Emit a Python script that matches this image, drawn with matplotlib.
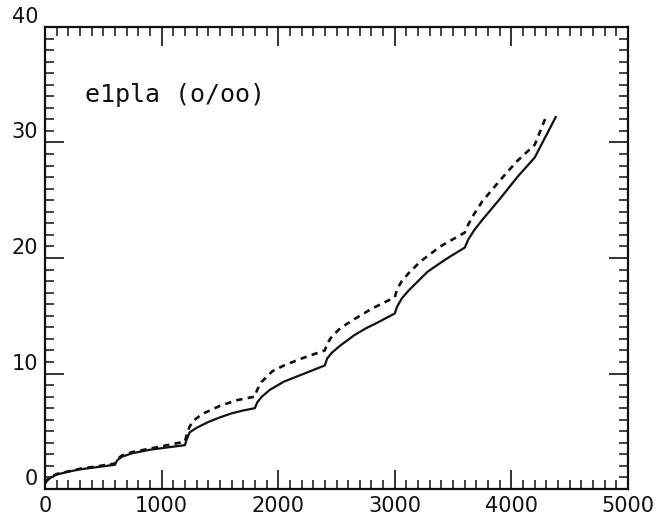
import matplotlib
matplotlib.use("Agg")
import matplotlib.pyplot as plt
from matplotlib.ticker import MultipleLocator

# Plastic strain (per mille) versus time, two runs
time_solid = [0, 25, 60, 100, 200, 300, 450, 600,
              620, 660, 750, 900, 1050, 1200,
              1215, 1240, 1300, 1400, 1500, 1600, 1700, 1800,
              1820, 1860, 1930, 2050, 2200, 2300, 2400,
              2420, 2460, 2530, 2650, 2750, 2850, 3000,
              3020, 3060, 3120, 3200, 3280, 3380, 3470, 3600,
              3630, 3680, 3750, 3900, 4050, 4200,
              4380]
strain_solid = [0.5, 0.8, 1.05, 1.25, 1.5, 1.7, 1.9, 2.1,
                2.5, 2.8, 3.1, 3.4, 3.6, 3.8,
                4.3, 4.9, 5.3, 5.8, 6.2, 6.55, 6.8, 7.0,
                7.5, 8.0, 8.6, 9.3, 9.9, 10.3, 10.7,
                11.3, 11.8, 12.4, 13.3, 13.9, 14.4, 15.2,
                15.8, 16.5, 17.2, 18.0, 18.8, 19.5, 20.1, 20.9,
                21.6, 22.4, 23.3, 25.1, 27.0, 28.7,
                32.2]

time_dashed = [0, 25, 60, 100, 300, 600,
               620, 660, 750, 900, 1050, 1200,
               1215, 1240, 1270, 1350, 1500, 1650, 1800,
               1820, 1860, 1950, 2050, 2200, 2400,
               2420, 2460, 2530, 2620, 2800, 3000,
               3020, 3060, 3120, 3220, 3390, 3600,
               3630, 3680, 3750, 3900, 4050, 4200,
               4300]
strain_dashed = [0.5, 0.85, 1.1, 1.3, 1.75, 2.2,
                 2.6, 2.9, 3.2, 3.5, 3.8, 4.1,
                 4.7, 5.4, 5.9, 6.5, 7.2, 7.7, 8.0,
                 8.6, 9.3, 10.2, 10.7, 11.3, 12.0,
                 12.6, 13.2, 13.9, 14.5, 15.6, 16.6,
                 17.3, 18.0, 18.7, 19.7, 21.0, 22.2,
                 22.9, 23.8, 24.9, 26.7, 28.4, 29.8,
                 32.3]

x_ticks = [0, 1000, 2000, 3000, 4000, 5000]
y_ticks = [0, 10, 20, 30, 40]
label_text = "e1pla (o/oo)"

fig = plt.figure(figsize=(6.63, 5.16), dpi=100)
ax = fig.add_axes([0.0679, 0.0523, 0.8793, 0.8954])

ax.plot(time_solid, strain_solid, color="#111111", lw=1.6,
        solid_joinstyle="round")
ax.plot(time_dashed, strain_dashed, color="#111111", lw=1.9,
        dashes=(2.4, 2.0), dash_capstyle="butt")

ax.set_xlim(0, 5000)
ax.set_ylim(0, 40)
ax.set_xticks(x_ticks)
ax.set_yticks(y_ticks)
ax.xaxis.set_minor_locator(MultipleLocator(100))
ax.yaxis.set_minor_locator(MultipleLocator(1))

ax.tick_params(which="both", direction="in", top=True, right=True,
               color="#111111")
ax.tick_params(which="major", length=13.5, width=1.2)
ax.tick_params(which="minor", length=6.5, width=1.1)
ax.set_xticklabels([])
ax.set_yticklabels([])

for s in ax.spines.values():
    s.set_linewidth(1.6)
    s.set_color("#111111")

# tick labels: x centred below, y right-aligned sitting on the tick
for xv in x_ticks:
    ax.annotate(str(xv), xy=(xv, 0), xycoords="data",
                xytext=(0, -5), textcoords="offset points",
                ha="center", va="top", fontsize=15, color="#111111",
                family="DejaVu Sans", annotation_clip=False)
for yv in y_ticks:
    ax.annotate(str(yv), xy=(0, yv), xycoords="data",
                xytext=(-5, 0), textcoords="offset points",
                ha="right", va="bottom", fontsize=15, color="#111111",
                family="DejaVu Sans", annotation_clip=False)

ax.text(0.068, 0.852, label_text, transform=ax.transAxes,
        ha="left", va="center", fontsize=18, color="#111111",
        family="DejaVu Sans Mono")

fig.savefig("out.png", dpi=100, facecolor="white")
